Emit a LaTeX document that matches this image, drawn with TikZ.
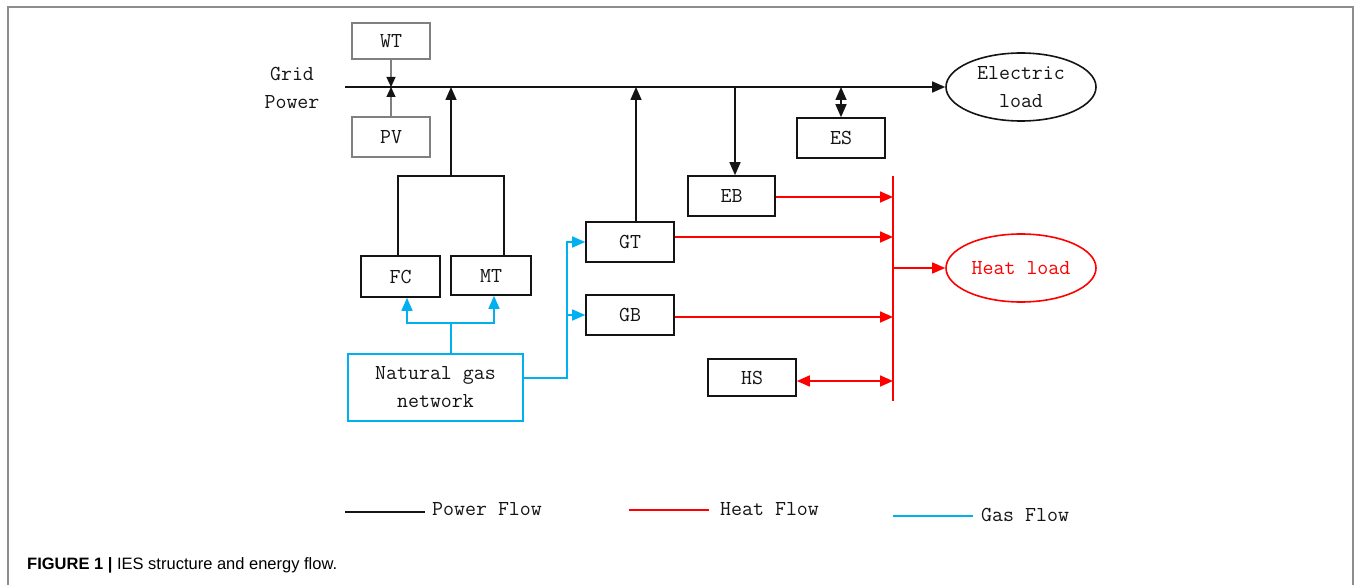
\documentclass[tikz,border=0pt]{standalone}
\usepackage{fontspec}
\newfontfamily\capfont{Liberation Sans}
\usetikzlibrary{arrows.meta,shapes.geometric,calc}
\definecolor{gascol}{RGB}{0,176,240}
\definecolor{heatcol}{RGB}{255,0,0}
\definecolor{boxgray}{RGB}{128,128,128}
\definecolor{pwcol}{RGB}{20,20,20}
\tikzset{
  tip/.style={-{Triangle[length=13pt,width=11pt]}},
  stip/.style={-{Triangle[length=10pt,width=9pt,color=pwcol]}},
  dtip/.style={{Triangle[length=13pt,width=11pt]}-{Triangle[length=13pt,width=11pt]}},
  pw/.style={draw=pwcol,line width=1.6pt},
  heat/.style={draw=heatcol,line width=1.6pt},
  gas/.style={draw=gascol,line width=1.6pt},
  gline/.style={draw=boxgray,line width=1.2pt},
  dtext/.style={font=\ttfamily\fontsize{21.3}{28}\selectfont},
  unit/.style={draw=pwcol,line width=1.6pt,rectangle,inner sep=0pt,dtext,text=pwcol},
  gbox/.style={draw=boxgray,line width=1.2pt,rectangle,inner sep=0pt,dtext,text=pwcol},
  load/.style={ellipse,line width=1.6pt,inner sep=0pt,minimum width=150pt,minimum height=68pt,dtext,align=center}
}
\begin{document}
\begin{tikzpicture}[x=1pt,y=-1pt]
\useasboundingbox (0,0) rectangle (1356,585);
% frame
\draw[draw=boxgray!90,line width=1.5pt] (8,585) -- (8,7) -- (1353,7) -- (1353,585);

% text
\node[dtext,align=center,text=pwcol] (grid) at (292,88) {Grid\\Power};

% nodes
\node[gbox,minimum width=78pt,minimum height=36pt] (WT) at (391,41) {WT};
\node[gbox,minimum width=78pt,minimum height=40pt] (PV) at (391,137) {PV};
\node[unit,minimum width=79pt,minimum height=41pt] (FC) at (400.5,276.5) {FC};
\node[unit,minimum width=80pt,minimum height=39pt] (MT) at (491,275.5) {MT};
\node[unit,draw=gascol,minimum width=175pt,minimum height=67pt,align=center] (NG) at (435.5,387.5) {Natural gas\\network};
\node[unit,minimum width=88pt,minimum height=40pt] (GT) at (630,242) {GT};
\node[unit,minimum width=88pt,minimum height=40pt] (GB) at (630,315) {GB};
\node[unit,minimum width=87pt,minimum height=40pt] (EB) at (731.5,196) {EB};
\node[unit,minimum width=88pt,minimum height=40pt] (ES) at (841,138) {ES};
\node[unit,minimum width=88pt,minimum height=37pt] (HS) at (752,377.5) {HS};
\node[load,draw=pwcol,text=pwcol] (eload) at (1021,87) {Electric\\load};
\node[load,draw=heatcol,text=heatcol] (hload) at (1021,268) {Heat load};

% power bus
\coordinate (busL) at (345,87);
\draw[pw,tip] (busL) -- (eload.west);
\draw[gline,stip] (WT.south) -- (WT.south |- busL);
\draw[gline,stip] (PV.north) -- (PV.north |- busL);
\coordinate (pj) at (451,176);
\draw[pw] ([xshift=-2.5pt]FC.north) |- (pj) -| ([xshift=13pt]MT.north);
\draw[pw,tip] (pj) -- (pj |- busL);
\draw[pw,tip] ([xshift=6pt]GT.north) -- ([xshift=6pt]GT.north |- busL);
\draw[pw,tip] ([xshift=3.5pt]EB.north |- busL) -- ([xshift=3.5pt]EB.north);
\draw[pw,dtip] (ES.north |- busL) -- (ES.north);

% gas
\coordinate (gj) at (451,323);
\draw[gas] (gj |- NG.north) -- (gj);
\draw[gas,tip] (gj) -| ([xshift=6.5pt]FC.south);
\draw[gas,tip] (gj) -| ([xshift=3pt]MT.south);
\coordinate (gv) at (567,242);
\draw[gas,tip] ([yshift=9.5pt]NG.east) -| (gv) -- (GT.west);
\draw[gas,tip] (gv |- GB.west) -- (GB.west);

% heat
\coordinate (ht) at (893,176);
\coordinate (hb) at (893,401);
\draw[heat] (ht) -- (hb);
\draw[heat,tip] ([yshift=-1pt]EB.east) -- ([yshift=-1pt]EB.east -| ht);
\draw[heat,tip] ([yshift=5pt]GT.east) -- ([yshift=5pt]GT.east -| ht);
\draw[heat,tip] ([yshift=-2pt]GB.east) -- ([yshift=-2pt]GB.east -| ht);
\draw[heat,dtip] ([yshift=-3.5pt]HS.east) -- ([yshift=-3.5pt]HS.east -| ht);
\draw[heat,tip] (ht |- hload.west) -- (hload.west);

% legend
\coordinate (l1a) at (345,512); \coordinate (l1b) at (425,512);
\draw[pw] (l1a) -- (l1b);
\node[dtext,text=pwcol,anchor=west,inner sep=0pt] (lp) at (432,509) {Power Flow};
\coordinate (l2a) at (629,510); \coordinate (l2b) at (709,510);
\draw[heat] (l2a) -- (l2b);
\node[dtext,text=pwcol,anchor=west,inner sep=0pt] (lh) at (720,509) {Heat Flow};
\coordinate (l3a) at (893,516); \coordinate (l3b) at (973,516);
\draw[gas] (l3a) -- (l3b);
\node[dtext,text=pwcol,anchor=west,inner sep=0pt] (lg) at (981,515) {Gas Flow};

% caption
\node[anchor=base west,inner sep=0pt,font=\capfont\fontsize{16.5}{19}\selectfont] (cap) at (27,569) {\textbf{FIGURE 1 |} IES structure and energy flow.};
\end{tikzpicture}
\end{document}
